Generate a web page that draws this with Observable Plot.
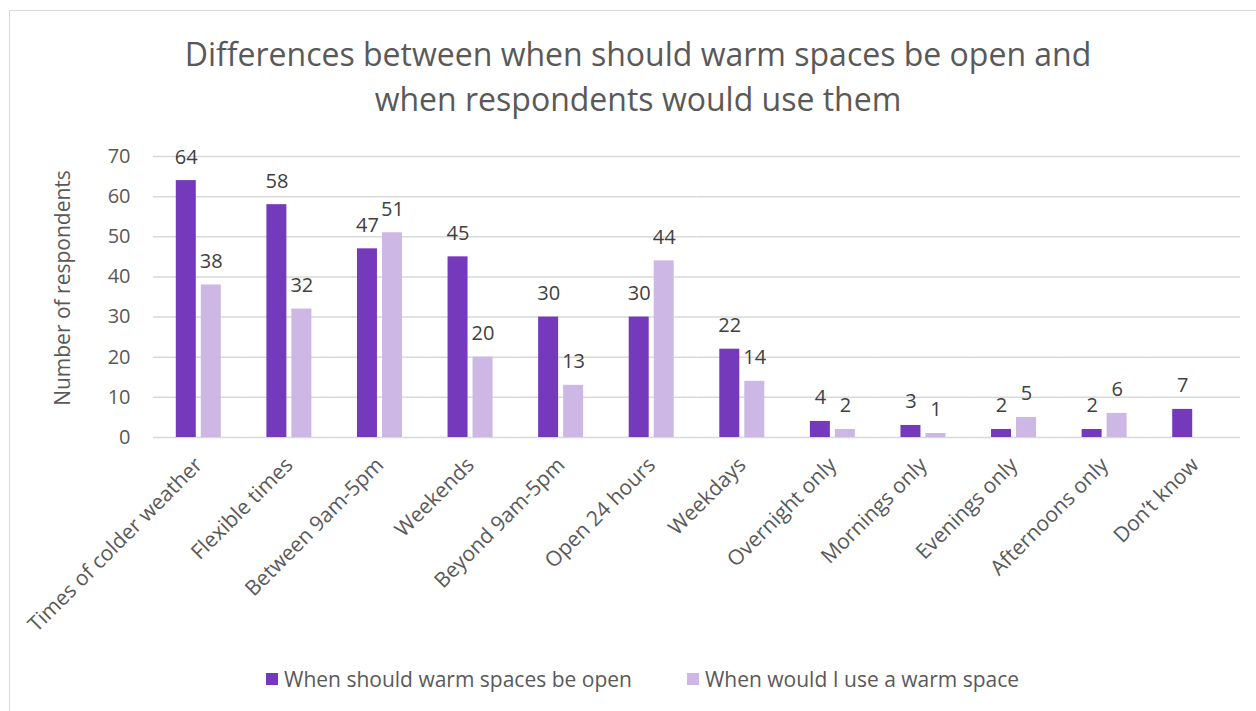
<!DOCTYPE html>
<html>
<head>
<meta charset="utf-8">
<script src="https://cdn.jsdelivr.net/npm/d3@7"></script>
<script src="https://cdn.jsdelivr.net/npm/@observablehq/plot@0.6"></script>
<style>
  html, body { margin: 0; padding: 0; background: #fff; }
  #wrap { position: relative; width: 1256px; height: 711px; overflow: hidden; font-family: "Open Sans", sans-serif; color: #595959; }
  #frame { position: absolute; left: 9px; top: 10px; width: 1400px; height: 900px; border-left: 1.5px solid #d9d9d9; border-top: 1.5px solid #d9d9d9; }
  #title { position: absolute; left: 10px; top: 31px; width: 1256px; text-align: center; font-size: 32px; line-height: 45px; color: #595959; }
  #chart { position: absolute; left: 0; top: 140px; }
  #ylabel { position: absolute; left: 62px; top: 288px; transform: translate(-50%, -50%) rotate(-90deg); font-size: 21px; white-space: nowrap; color: #595959; }
  #legend { position: absolute; left: 266px; top: 665px; display: flex; align-items: center; font-size: 21px; color: #595959; white-space: nowrap; }
  .item { display: flex; align-items: center; }
  .sw { width: 12px; height: 12px; margin-right: 6px; }
</style>
</head>
<body>
<div id="wrap">
  <div id="frame"></div>
  <div id="title">Differences between when should warm spaces be open and<br>when respondents would use them</div>
  <div id="chart"></div>
  <div id="ylabel">Number of respondents</div>
  <div id="legend"></div>
</div>
<script>
const categories = ["Times of colder weather", "Flexible times", "Between 9am-5pm", "Weekends", "Beyond 9am-5pm", "Open 24 hours", "Weekdays", "Overnight only", "Mornings only", "Evenings only", "Afternoons only", "Don’t know"];
const seriesNames = ["When should warm spaces be open", "When would I use a warm space"];
const shouldOpen = [64, 58, 47, 45, 30, 30, 22, 4, 3, 2, 2, 7];
const wouldUse = [38, 32, 51, 20, 13, 44, 14, 2, 1, 5, 6, null];
const yTicks = [0, 10, 20, 30, 40, 50, 60, 70];
const colors = ["#7539bb", "#cdb7e5"];

const data = [];
categories.forEach((c, i) => {
  if (shouldOpen[i] != null) data.push({cat: c, series: seriesNames[0], value: shouldOpen[i]});
  if (wouldUse[i] != null) data.push({cat: c, series: seriesNames[1], value: wouldUse[i]});
});

const chart = Plot.plot({
  width: 1256,
  height: 500,
  marginLeft: 153,
  marginRight: 16,
  marginTop: 16,
  marginBottom: 203,
  style: {fontFamily: "Open Sans", fontSize: "21px", color: "#595959", background: "transparent", overflow: "visible"},
  fx: {domain: categories, padding: 0, round: false, tickRotate: -45, tickSize: 0, tickPadding: 24, label: null},
  x: {domain: seriesNames, paddingInner: 0.2, paddingOuter: 0.912, round: false, axis: null},
  y: {domain: [0, 70], axis: null},
  color: {domain: seriesNames, range: colors},
  marks: [
    Plot.axisY({ticks: yTicks, tickSize: 0, tickPadding: 23, fontSize: 20, label: null}),
    Plot.ruleY(yTicks, {stroke: "#d9d9d9", strokeWidth: 1.5}),
    Plot.barY(data, {fx: "cat", x: "series", y: "value", fill: "series"}),
    Plot.text(data, {fx: "cat", x: "series", y: "value", text: d => String(d.value), lineAnchor: "bottom", dy: -17, fill: "#404040", fontSize: 20})
  ]
});
document.getElementById("chart").appendChild(chart);

const legend = document.getElementById("legend");
seriesNames.forEach((s, i) => {
  const item = document.createElement("div");
  item.className = "item";
  if (i > 0) item.style.marginLeft = "55px";
  const sw = document.createElement("div");
  sw.className = "sw";
  sw.style.background = colors[i];
  const t = document.createElement("span");
  t.textContent = s;
  item.appendChild(sw);
  item.appendChild(t);
  legend.appendChild(item);
});
</script>
</body>
</html>
